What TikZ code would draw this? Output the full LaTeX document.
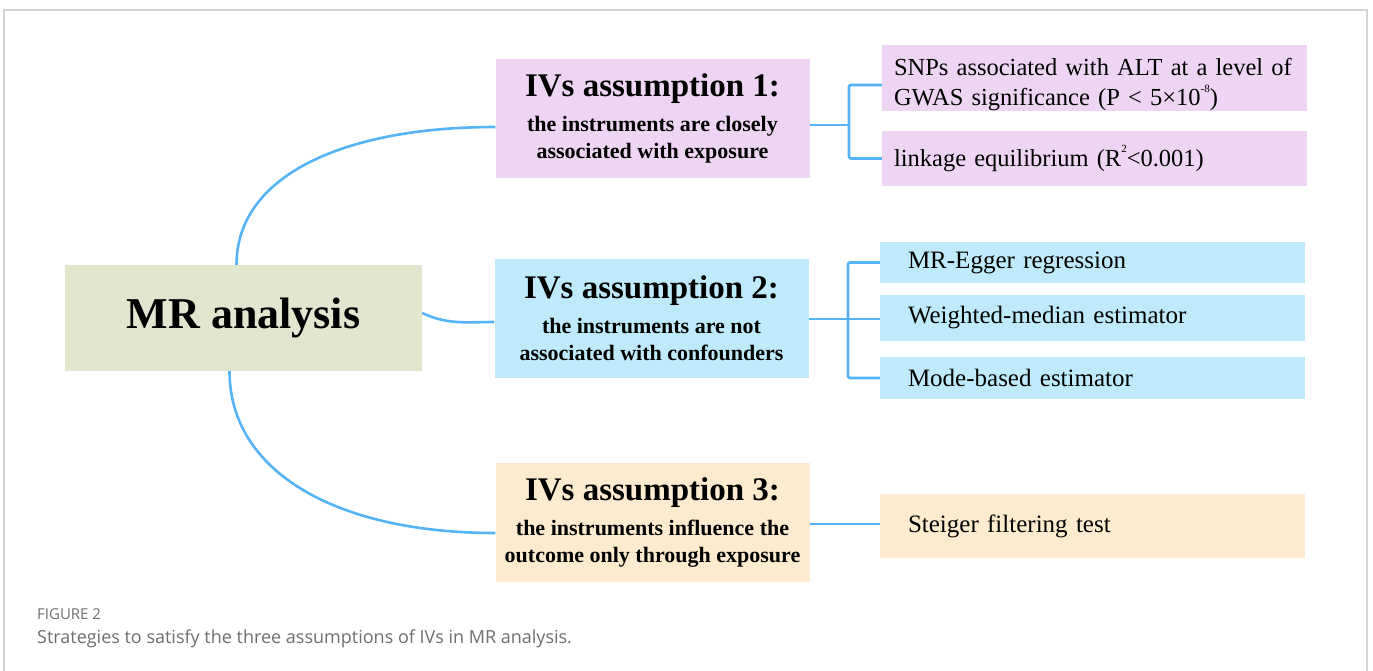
\documentclass[tikz,border=0pt]{standalone}
\usepackage{fontspec}
\setmainfont{Liberation Serif}
\newfontfamily\capfont{Open Sans}
\definecolor{mrfill}{HTML}{E1E6CF}
\definecolor{pinkfill}{HTML}{EFD5F4}
\definecolor{bluefill}{HTML}{BEEAFB}
\definecolor{orangefill}{HTML}{FDEBCF}
\definecolor{linkblue}{HTML}{55B4F7}
\definecolor{framegray}{HTML}{D3D3D3}
\definecolor{capgray}{HTML}{6E6E6E}
\newcommand{\ivtitle}{\fontsize{33}{38}\selectfont}
\newcommand{\ivtext}{\fontsize{22}{27}\selectfont}
\newcommand{\smallsup}[1]{\raisebox{0.55em}{\fontsize{11}{11}\selectfont #1}}

\begin{document}
\begin{tikzpicture}[x=1pt,y=-1pt,
	mainbox/.style={rectangle,fill=mrfill,inner sep=0,minimum width=357,minimum height=106,font=\bfseries\fontsize{44}{50}\selectfont},
	ivbox/.style={rectangle,inner sep=0,align=center,minimum width=314,minimum height=119,font=\bfseries\fontsize{22}{27}\selectfont},
	leafa/.style={rectangle,inner ysep=0,inner xsep=12,text width=401,align=left,font=\fontsize{24.5}{30}\selectfont},
	leafb/.style={rectangle,inner ysep=0,inner xsep=28,text width=369,align=left,font=\fontsize{25}{30}\selectfont},
	link/.style={draw=linkblue,line width=2.6pt},
	captext/.style={anchor=base west,inner sep=0,text=capgray}]
	\useasboundingbox (0,0) rectangle (1373,670);
	\draw[framegray,line width=1.5pt] (4,690) -- (4,10) -- (1367,10) -- (1367,690);

	\node (mr) at (243.5,318) [mainbox] {MR analysis};
	\node (iv1) at (652.5,118) [ivbox,fill=pinkfill] {\ivtitle IVs assumption 1:\\[8pt]\ivtext the instruments are closely\\\ivtext associated with exposure};
	\node (iv2) at (651.5,318) [ivbox,fill=bluefill] {\ivtitle IVs assumption 2:\\[8pt]\ivtext the instruments are not\\\ivtext associated with confounders};
	\node (iv3) at (652.5,522.5) [ivbox,fill=orangefill] {\ivtitle IVs assumption 3:\\[8pt]\ivtext the instruments influence the\\\ivtext outcome only through exposure};

	\node (snp) at (1094.5,78) [leafa,fill=pinkfill,minimum height=66] {\rule{0pt}{31pt}\mbox{SNPs associated with ALT at a level of}\\\mbox{GWAS significance (P < 5×10\smallsup{-8})}};
	\node (ld) at (1094.5,158.5) [leafa,fill=pinkfill,minimum height=55] {linkage equilibrium (R\smallsup{2}<0.001)};
	\node (egger) at (1092.5,262.5) [leafb,fill=bluefill,minimum height=41] {MR-Egger regression};
	\node (wmed) at (1092.5,318) [leafb,fill=bluefill,minimum height=46] {Weighted-median estimator};
	\node (mode) at (1092.5,378) [leafb,fill=bluefill,minimum height=42] {Mode-based estimator};
	\node (steiger) at (1092.5,526) [leafb,fill=orangefill,minimum height=64] {Steiger filtering test};

	\draw[link] ([xshift=-7pt]mr.north) .. controls +(0,-90) and +(-150,0) .. ([yshift=-9pt]iv1.west);
	\draw[link] ([yshift=5pt]mr.east) to[out=-25,in=180] ([yshift=-4pt]iv2.west);
	\draw[link] ([xshift=-14pt]mr.south) .. controls +(0,100) and +(-160,0) .. ([yshift=-10.5pt]iv3.west);

	\coordinate (b1) at (849,125);
	\draw[link] ([yshift=-7pt]iv1.east) -- (b1);
	\draw[link,rounded corners=2pt] ([yshift=-7pt]snp.west) -| (b1) |- (ld.west);
	\coordinate (b2) at (848,319);
	\draw[link] ([yshift=-1pt]iv2.east) -- (b2);
	\draw[link,rounded corners=2pt] (egger.west) -| (b2) |- (mode.west);
	\draw[link] (b2) -- (b2 -| wmed.west);
	\draw[link] ([yshift=-1.5pt]iv3.east) -- ([yshift=-1.5pt]iv3.east -| steiger.west);

	\node (fig) at (37,619) [captext,font=\capfont\fontsize{15}{18}\selectfont] {FIGURE 2};
	\node (cap) at (37,643) [captext,font=\capfont\fontsize{18}{21}\selectfont] {Strategies to satisfy the three assumptions of IVs in MR analysis.};
\end{tikzpicture}
\end{document}
